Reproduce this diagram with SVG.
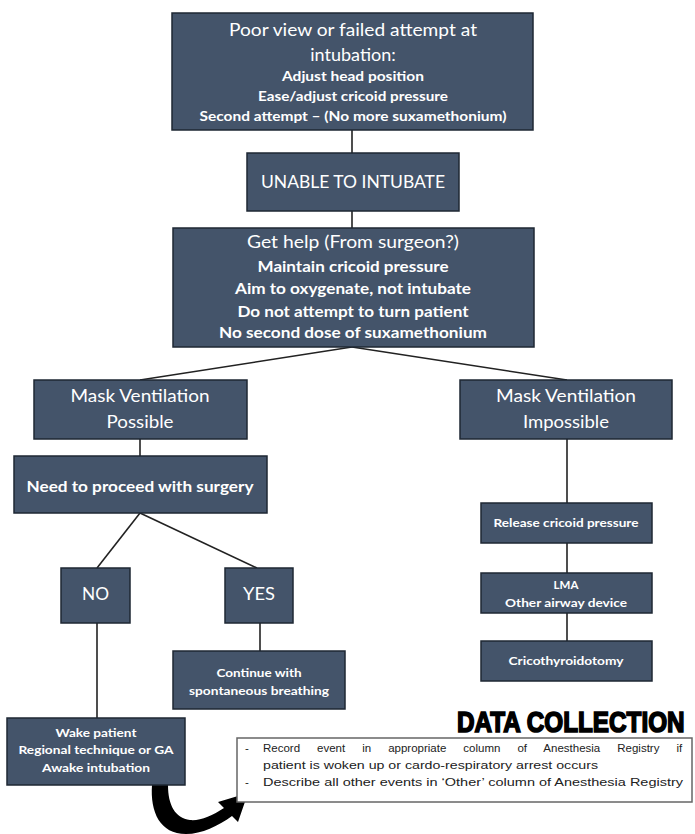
<svg xmlns="http://www.w3.org/2000/svg" width="695" height="834" viewBox="0 0 695 834">
<style>
.box{fill:#44546A;stroke:#1e2733;stroke-width:1.5}
.t{font-family:Lato,"Open Sans","Liberation Sans",sans-serif;fill:#ffffff;text-anchor:middle}
.big{font-size:18px}
.med{font-size:16px;font-weight:bold}
.sm{font-size:13px;font-weight:bold}
.xs{font-size:11.5px;font-weight:bold}
.ln{stroke:#222;stroke-width:1.6;fill:none}
.dc{font-family:"Liberation Sans",Arial,sans-serif;font-size:11.5px;fill:#222}
</style>
<rect width="695" height="834" fill="#ffffff"/>
<g id="connectors">
<line class="ln" x1="352" y1="130" x2="352" y2="153"/>
<line class="ln" x1="352" y1="211" x2="352" y2="228"/>
<line class="ln" x1="352" y1="347" x2="140" y2="380"/>
<line class="ln" x1="352" y1="347" x2="567" y2="380"/>
<line class="ln" x1="140" y1="439" x2="140" y2="456"/>
<line class="ln" x1="140" y1="513" x2="97" y2="568"/>
<line class="ln" x1="140" y1="513" x2="257" y2="568"/>
<line class="ln" x1="97" y1="623" x2="97" y2="718"/>
<line class="ln" x1="260" y1="623" x2="260" y2="651"/>
<line class="ln" x1="567" y1="439" x2="567" y2="503"/>
<line class="ln" x1="567" y1="543" x2="567" y2="573"/>
<line class="ln" x1="567" y1="613" x2="567" y2="641"/>
<path id="curved-arrow" d="M152,785 C150,812 160,834 186,834 C202,834 218,826 232,816 L238,822 L248,793 L218,802 L224,808 C212,816 200,821 190,820 C175,818 168,805 168,785 Z" fill="#000"/>
</g>
<g id="n1">
<rect class="box" x="172" y="13" width="361" height="117"/>
<text class="t big" x="353" y="36" textLength="248" lengthAdjust="spacingAndGlyphs">Poor view or failed attempt at</text>
<text class="t big" x="353" y="61">intubation:</text>
<text class="t sm" x="353" y="81" textLength="142" lengthAdjust="spacingAndGlyphs">Adjust head position</text>
<text class="t sm" x="353" y="101" textLength="190" lengthAdjust="spacingAndGlyphs">Ease/adjust cricoid pressure</text>
<text class="t sm" x="353" y="121" textLength="307" lengthAdjust="spacingAndGlyphs">Second attempt – (No more suxamethonium)</text>
</g>
<g id="n2">
<rect class="box" x="247" y="153" width="212" height="58"/>
<text class="t big" x="353" y="188" textLength="184" lengthAdjust="spacingAndGlyphs">UNABLE TO INTUBATE</text>
</g>
<g id="n3">
<rect class="box" x="173" y="228" width="361" height="119"/>
<text class="t big" x="353" y="248" textLength="212" lengthAdjust="spacingAndGlyphs">Get help (From surgeon?)</text>
<text class="t med" x="353" y="272" textLength="191" lengthAdjust="spacingAndGlyphs">Maintain cricoid pressure</text>
<text class="t med" x="353" y="294" textLength="236" lengthAdjust="spacingAndGlyphs">Aim to oxygenate, not intubate</text>
<text class="t med" x="353" y="317" textLength="231" lengthAdjust="spacingAndGlyphs">Do not attempt to turn patient</text>
<text class="t med" x="353" y="338" textLength="268" lengthAdjust="spacingAndGlyphs">No second dose of suxamethonium</text>
</g>
<g id="n4">
<rect class="box" x="34" y="380" width="213" height="59"/>
<text class="t big" x="140" y="402" textLength="139" lengthAdjust="spacingAndGlyphs">Mask Ventilation</text>
<text class="t big" x="140" y="428" textLength="67" lengthAdjust="spacingAndGlyphs">Possible</text>
</g>
<g id="n5">
<rect class="box" x="14" y="456" width="253" height="57"/>
<text class="t med" x="140" y="492" textLength="227" lengthAdjust="spacingAndGlyphs">Need to proceed with surgery</text>
</g>
<g id="n6">
<rect class="box" x="460" y="380" width="212" height="59"/>
<text class="t big" x="566" y="402" textLength="140" lengthAdjust="spacingAndGlyphs">Mask Ventilation</text>
<text class="t big" x="566" y="428" textLength="86" lengthAdjust="spacingAndGlyphs">Impossible</text>
</g>
<g id="n7">
<rect class="box" x="61" y="568" width="69" height="55"/>
<text class="t big" x="95.5" y="600" textLength="27" lengthAdjust="spacingAndGlyphs">NO</text>
</g>
<g id="n8">
<rect class="box" x="225" y="568" width="68" height="55"/>
<text class="t big" x="259" y="600" textLength="32" lengthAdjust="spacingAndGlyphs">YES</text>
</g>
<g id="n9">
<rect class="box" x="173" y="651" width="172" height="58"/>
<text class="t xs" x="259" y="677" textLength="85" lengthAdjust="spacingAndGlyphs">Continue with</text>
<text class="t xs" x="259" y="695" textLength="140" lengthAdjust="spacingAndGlyphs">spontaneous breathing</text>
</g>
<g id="n10">
<rect class="box" x="481" y="503" width="171" height="40"/>
<text class="t xs" x="566" y="527" textLength="145" lengthAdjust="spacingAndGlyphs">Release cricoid pressure</text>
</g>
<g id="n11">
<rect class="box" x="481" y="573" width="171" height="40"/>
<text class="t xs" x="566" y="589">LMA</text>
<text class="t xs" x="566" y="607" textLength="122" lengthAdjust="spacingAndGlyphs">Other airway device</text>
</g>
<g id="n12">
<rect class="box" x="481" y="641" width="171" height="40"/>
<text class="t xs" x="566" y="665" textLength="115" lengthAdjust="spacingAndGlyphs">Cricothyroidotomy</text>
</g>
<g id="n13">
<rect class="box" x="7" y="718" width="178" height="67"/>
<text class="t xs" x="96" y="737" textLength="81" lengthAdjust="spacingAndGlyphs">Wake patient</text>
<text class="t xs" x="96" y="754" textLength="155" lengthAdjust="spacingAndGlyphs">Regional technique or GA</text>
<text class="t xs" x="96" y="772" textLength="108" lengthAdjust="spacingAndGlyphs">Awake intubation</text>
</g>
<g id="data-collection">
<text transform="translate(457,732) scale(1,1.2)" x="0" y="0" font-family="'Liberation Sans',Arial,sans-serif" font-size="24.3" font-weight="bold" fill="#000" stroke="#000" stroke-width="1.4">DATA COLLECTION</text>
<rect x="237" y="738" width="455" height="64" fill="#fff" stroke="#666" stroke-width="1.5"/>
<text class="dc" x="245" y="752">-</text>
<text class="dc" x="263" y="752" word-spacing="13.8">Record event in appropriate column of Anesthesia Registry if</text>
<text class="dc" x="263" y="769" textLength="335" lengthAdjust="spacingAndGlyphs">patient is woken up or cardo-respiratory arrest occurs</text>
<text class="dc" x="245" y="786">-</text>
<text class="dc" x="263" y="786" textLength="420" lengthAdjust="spacingAndGlyphs">Describe all other events in ‘Other’ column of Anesthesia Registry</text>
</g>
</svg>
